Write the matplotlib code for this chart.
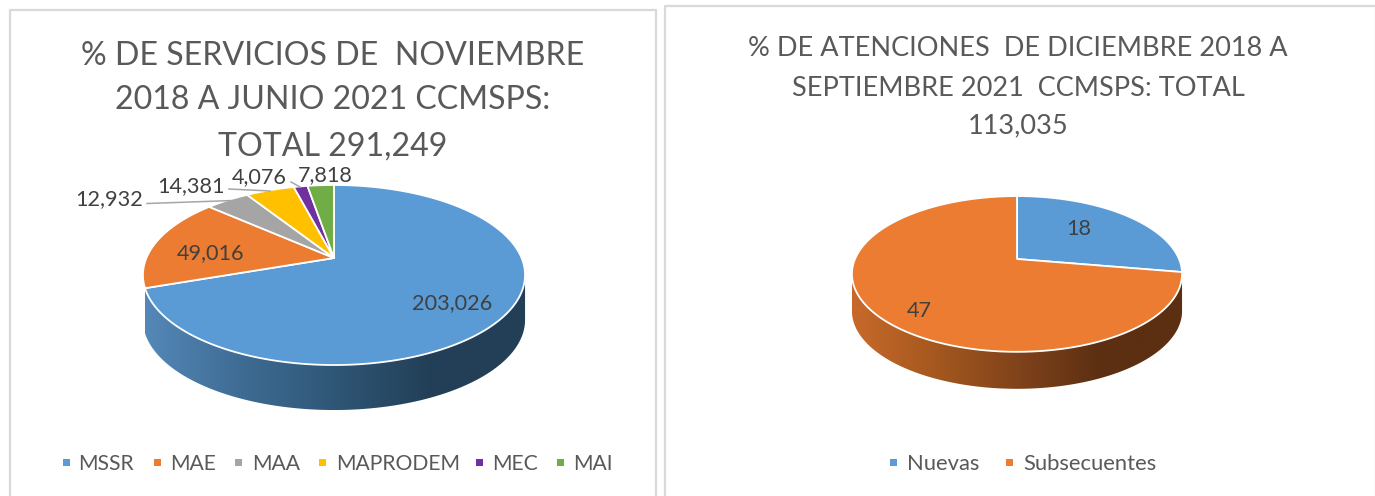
import numpy as np
import matplotlib
matplotlib.use('Agg')
import matplotlib.pyplot as plt
from matplotlib.colors import LinearSegmentedColormap
from matplotlib.patches import Polygon, Rectangle

plt.rcParams['font.family'] = ['Lato', 'DejaVu Sans']

W, H = 1375, 496

# left chart
servicios_names = ['MSSR', 'MAE', 'MAA', 'MAPRODEM', 'MEC', 'MAI']
servicios_values = [203026, 49016, 12932, 14381, 4076, 7818]
servicios_colors = ['#5B9BD5', '#EB7C31', '#A5A5A5', '#FFC000', '#7030A0', '#70AD47']
servicios_title = ['% DE SERVICIOS DE  NOVIEMBRE', '2018 A JUNIO 2021 CCMSPS:', 'TOTAL 291,249']

# right chart
atenciones_names = ['Nuevas', 'Subsecuentes']
atenciones_values = [18, 47]
atenciones_colors = ['#5B9BD5', '#EB7C31']
atenciones_title = ['% DE ATENCIONES  DE DICIEMBRE 2018 A', 'SEPTIEMBRE 2021  CCMSPS: TOTAL', '113,035']


def rim(theta, geo):
    """Project pie angles (degrees clockwise from the top) onto the picture."""
    cx, cy, a, b, p = geo
    t = np.radians(theta)
    s = 1 + p * np.cos(t)
    return cx + a * np.sin(t) / s, cy - b * np.cos(t) / s


def draw_pie(ax, values, colors, geo, depth, side_stops, side_range):
    # side first, a gradient image clipped to the rim band
    t = np.linspace(side_range[0], side_range[1], 200)
    x, y = rim(t, geo)
    band = np.r_[np.c_[x, y], np.c_[x, y + depth][::-1]]
    patch = Polygon(band, closed=True, facecolor='none', edgecolor='none', zorder=2)
    ax.add_patch(patch)
    cmap = LinearSegmentedColormap.from_list('side', side_stops)
    grad = np.linspace(0, 1, 512).reshape(1, -1)
    im = ax.imshow(grad, cmap=cmap, aspect='auto', zorder=2,
                   extent=[x.min(), x.max(), y.max() + depth, y.min()])
    im.set_clip_path(patch)

    # top face, one polygon per slice
    edges = np.r_[0, np.cumsum(values)] / np.sum(values) * 360
    for i, color in enumerate(colors):
        t = np.linspace(edges[i], edges[i + 1], 200)
        x, y = rim(t, geo)
        pts = np.r_[[[geo[0], geo[1]]], np.c_[x, y]]
        ax.add_patch(Polygon(pts, closed=True, facecolor=color, edgecolor='white',
                             linewidth=1.3, joinstyle='round', zorder=3))


def draw_legend(ax, names, colors, box_x, text_x, y, size):
    for name, color, bx, tx in zip(names, colors, box_x, text_x):
        ax.add_patch(Rectangle((bx, y - 3.5), 7, 7, facecolor=color, edgecolor='none'))
        ax.text(tx, y + 1.5, name, fontsize=size, color='#595959', va='center', ha='left')


fig = plt.figure(figsize=(W / 100, H / 100), dpi=100)
ax = fig.add_axes([0, 0, 1, 1])

# panel frames
for x0, x1, y0 in [(10.5, 656, 9.5), (665, 1376, 6)]:
    ax.plot([x0, x0, x1, x1], [H + 2, y0, y0, H + 2], color='#d9d9d9', lw=1.6, zorder=1)

draw_pie(ax, servicios_values, servicios_colors, (334, 258, 187.6, 86.8, 0.189), 45,
         ['#5488B8', '#3F6C94', '#2F5676', '#233F57', '#233F57'], (101, 251))
draw_pie(ax, atenciones_values, atenciones_colors, (1017, 259, 162, 75, 0.192), 37,
         ['#C8692B', '#A5581F', '#80431B', '#5C2F12', '#5C2F12'], (100, 259))

# titles
for txt, y in zip(servicios_title, [56, 100, 147]):
    ax.text(333, y, txt, fontsize=23.1, color='#595959', ha='center', va='center', zorder=2)
for txt, y in zip(atenciones_title, [49, 88, 125.5]):
    ax.text(1018, y, txt, fontsize=19.5, color='#595959', ha='center', va='center', zorder=2)

# slice labels with their leader lines
label_color = '#404040'
for (txt, x, y) in [('203,026', 452, 303), ('49,016', 211, 253), ('12,932', 109, 199),
                    ('14,381', 191, 186), ('4,076', 259.5, 177), ('7,818', 325, 175)]:
    ax.text(x, y, txt, fontsize=15.6, color=label_color, ha='center', va='center', zorder=5)
for xs, ys in [((147, 248), (203.5, 200)), ((229, 270), (189, 191)), ((291, 300), (182, 187))]:
    ax.plot(xs, ys, color='#A6A6A6', lw=1.1, zorder=4)
ax.text(1079, 229, '18', fontsize=15.6, color=label_color, ha='center', va='center', zorder=5)
ax.text(919, 311, '47', fontsize=15.6, color=label_color, ha='center', va='center', zorder=5)

draw_legend(ax, servicios_names, servicios_colors,
            [63, 154, 235, 319, 476, 557], [78, 170, 252, 336, 492, 573], 462, 15.2)
draw_legend(ax, atenciones_names, atenciones_colors, [890, 1006], [907, 1023], 462, 15.8)

ax.set_xlim(0, W)
ax.set_ylim(H, 0)
ax.axis('off')
fig.savefig('out.png', dpi=100)
